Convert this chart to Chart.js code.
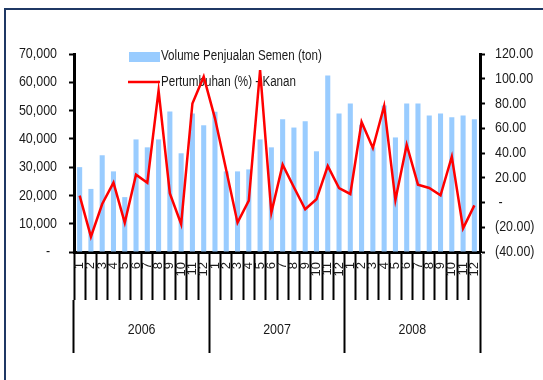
<!DOCTYPE html>
<html lang="id">
<head>
  <meta charset="UTF-8">
  <title>Volume Penjualan Semen</title>
  <script src="https://cdn.jsdelivr.net/npm/chart.js"></script>
  <style>
    * { box-sizing: border-box; margin: 0; padding: 0; }
    body { background: #ffffff; width: 543px; height: 380px; overflow: hidden; position: relative; }
    .frame { position: absolute; left: 4px; top: 8px; width: 700px; height: 500px; border: 2px solid #1f3864; }
    canvas { position: absolute; left: 0; top: 0; }
  </style>
</head>
<body>
  <div class="frame"></div>
  <canvas id="chart" width="543" height="380"></canvas>
  <script>
    // months 1..12 for three years
    const months = ['1','2','3','4','5','6','7','8','9','10','11','12',
                    '1','2','3','4','5','6','7','8','9','10','11','12',
                    '1','2','3','4','5','6','7','8','9','10','11','12'];
    const years = ['2006', '2007', '2008'];

    // cement sales volume (ton), left axis
    const volume = [30000, 22300, 34200, 28500, 19400, 39800, 37000, 39800, 49700, 34900, 49000, 44800,
                    49600, 28500, 28500, 29200, 39800, 37000, 46900, 44000, 46200, 35600, 62400, 49000,
                    52500, 45000, 37000, 51800, 40500, 52500, 52500, 48300, 49000, 47600, 48300, 46900];

    // growth (%), right axis
    const growth = [5.5, -27.6, -1.2, 16, -16.3, 22.5, 16, 90.5, 7.4, -17.4, 80, 101.7,
                    68, 26, -16.3, 1.5, 107, -8.2, 30.5, 12.3, -5.5, 2.6, 29.5, 11.7,
                    6.9, 65, 44, 78, 2, 46.7, 14.4, 11.7, 5.8, 37, -20.9, -2.3];

    const FONT = '"Liberation Sans", Arial, sans-serif';
    const SQUEEZE = 0.83;   // the original uses a narrow face
    const barColor = '#99ccff';
    const lineColor = '#ff0000';

    Chart.defaults.font.family = FONT;
    Chart.defaults.color = '#1a1a1a';

    // horizontal text gets drawn a bit condensed, rotated month labels stay as they are
    const squeeze = {
      id: 'squeeze',
      beforeInit(chart) {
        const ctx = chart.ctx;
        const fill = ctx.fillText.bind(ctx);
        ctx.fillText = function (text, x, y, maxWidth) {
          const m = ctx.getTransform();
          if (Math.abs(m.b) > 0.01) return fill(text, x, y, maxWidth);
          ctx.save();
          ctx.translate(x, y);
          ctx.scale(SQUEEZE, 1);
          fill(text, 0, 0, maxWidth);
          ctx.restore();
        };
      }
    };

    // legend drawn inside the plot area, under the data lines
    const boxLegend = {
      id: 'boxLegend',
      beforeDatasetsDraw(chart) {
        const ctx = chart.ctx;
        const a = chart.chartArea;
        const ds = chart.data.datasets;
        ctx.save();
        ctx.font = '14px ' + FONT;
        ctx.textBaseline = 'middle';
        ctx.textAlign = 'left';
        ctx.fillStyle = ds[0].backgroundColor;
        ctx.fillRect(a.left + 55, a.top - 2, 31, 10);
        ctx.fillStyle = '#1a1a1a';
        ctx.fillText(ds[0].label, a.left + 87, a.top + 2);
        ctx.strokeStyle = ds[1].borderColor;
        ctx.lineWidth = 2.5;
        ctx.beginPath();
        ctx.moveTo(a.left + 54, a.top + 28);
        ctx.lineTo(a.left + 86, a.top + 28);
        ctx.stroke();
        ctx.fillText(ds[1].label, a.left + 87, a.top + 28);
        ctx.restore();
      }
    };

    function leftLabel(v) {
      if (v === 0) return '-  ';
      return v.toLocaleString('en-US');
    }
    function rightLabel(v) {
      if (v === 0) return ' -';
      if (v < 0) return '(' + Math.abs(v).toFixed(2) + ')';
      return v.toFixed(2);
    }

    new Chart(document.getElementById('chart').getContext('2d'), {
      data: {
        labels: months,
        datasets: [
          {
            type: 'bar',
            label: 'Volume Penjualan Semen (ton)',
            data: volume,
            backgroundColor: barColor,
            yAxisID: 'y',
            xAxisID: 'x',
            barPercentage: 0.45,
            categoryPercentage: 1,
            order: 1
          },
          {
            type: 'line',
            label: 'Pertumbuhan (%) - Kanan',
            data: growth,
            borderColor: lineColor,
            borderWidth: 2.5,
            pointRadius: 0,
            tension: 0,
            yAxisID: 'y1',
            xAxisID: 'x',
            order: 0
          }
        ]
      },
      options: {
        responsive: false,
        animation: false,
        layout: { padding: { top: 54, bottom: 27, left: 0, right: 0 } },
        plugins: { legend: { display: false }, tooltip: { enabled: false } },
        scales: {
          x: {
            position: 'bottom',
            weight: 0,
            offset: true,
            grid: { offset: true, drawOnChartArea: false, tickLength: 48, tickColor: '#000', tickWidth: 2 },
            border: { color: '#000', width: 3 },
            ticks: { autoSkip: false, minRotation: 90, maxRotation: 90, padding: -38, color: '#1a1a1a', font: { size: 13 } },
            afterFit(scale) { scale.height = 48; }
          },
          x2: {
            type: 'category',
            labels: years,
            position: 'bottom',
            weight: 1,
            offset: true,
            grid: { offset: true, drawOnChartArea: false, tickLength: 53, tickColor: '#000', tickWidth: 2 },
            border: { display: false },
            ticks: { autoSkip: false, maxRotation: 0, padding: -32, color: '#1a1a1a', font: { size: 15 } },
            afterFit(scale) { scale.height = 53; }
          },
          y: {
            position: 'left',
            min: 0,
            max: 70000,
            ticks: { stepSize: 10000, padding: 12, callback: leftLabel, color: '#1a1a1a', font: { size: 15 } },
            grid: { drawOnChartArea: false, tickLength: 5, tickColor: '#000', tickWidth: 2 },
            border: { color: '#000', width: 3 },
            afterFit(scale) { scale.width = 74; }
          },
          y1: {
            position: 'right',
            min: -40,
            max: 120,
            ticks: { stepSize: 20, padding: 10, callback: rightLabel, color: '#1a1a1a', font: { size: 15 } },
            grid: { drawOnChartArea: false, tickLength: 5, tickColor: '#000', tickWidth: 2 },
            border: { color: '#000', width: 3 },
            afterFit(scale) { scale.width = 63; }
          }
        }
      },
      plugins: [squeeze, boxLegend]
    });
  </script>
</body>
</html>
